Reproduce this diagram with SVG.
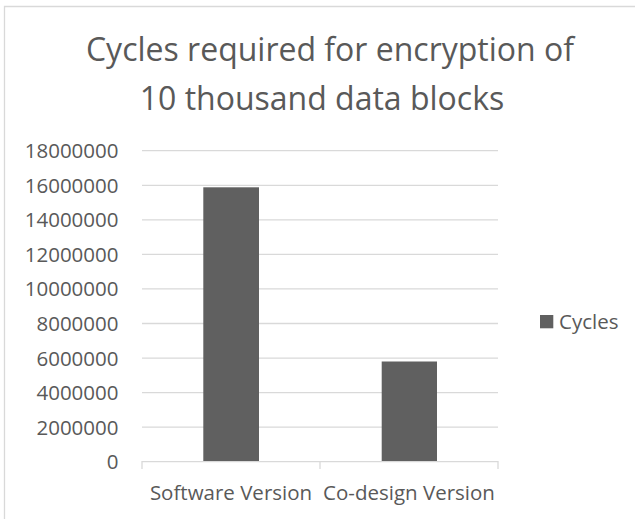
<svg xmlns="http://www.w3.org/2000/svg" width="635" height="519" viewBox="0 0 635 519">
<style>
  text { font-family: "Open Sans", "Liberation Sans", sans-serif; fill: #595959; }
  .title { font-size: 32px; text-anchor: middle; }
  .ylab { font-size: 20.5px; text-anchor: end; }
  .xlab { font-size: 20.5px; text-anchor: middle; }
  .leg { font-size: 20.5px; }
  .grid line { stroke: #d9d9d9; stroke-width: 1.3; }
  .axis { stroke: #d9d9d9; stroke-width: 1.3; fill: none; }
  .bar { fill: #606060; }
</style>
<rect x="0" y="0" width="635" height="519" fill="#ffffff"/>
<path d="M4.5 519 V6.5 H635" fill="none" stroke="#d9d9d9" stroke-width="1.3"/>
<g id="title">
  <text class="title" x="330" y="61">Cycles required for encryption of</text>
  <text class="title" x="322" y="110">10 thousand data blocks</text>
</g>
<g id="gridlines" class="grid">
  <line x1="142" y1="150.7" x2="498" y2="150.7"/>
  <line x1="142" y1="185.3" x2="498" y2="185.3"/>
  <line x1="142" y1="219.8" x2="498" y2="219.8"/>
  <line x1="142" y1="254.4" x2="498" y2="254.4"/>
  <line x1="142" y1="288.9" x2="498" y2="288.9"/>
  <line x1="142" y1="323.5" x2="498" y2="323.5"/>
  <line x1="142" y1="358.1" x2="498" y2="358.1"/>
  <line x1="142" y1="392.6" x2="498" y2="392.6"/>
  <line x1="142" y1="427.2" x2="498" y2="427.2"/>
</g>
<g id="y-axis-labels">
  <text class="ylab" x="118.5" y="158.1">18000000</text>
  <text class="ylab" x="118.5" y="192.7">16000000</text>
  <text class="ylab" x="118.5" y="227.2">14000000</text>
  <text class="ylab" x="118.5" y="261.8">12000000</text>
  <text class="ylab" x="118.5" y="296.3">10000000</text>
  <text class="ylab" x="118.5" y="330.9">8000000</text>
  <text class="ylab" x="118.5" y="365.5">6000000</text>
  <text class="ylab" x="118.5" y="400">4000000</text>
  <text class="ylab" x="118.5" y="434.6">2000000</text>
  <text class="ylab" x="118.5" y="469.1">0</text>
</g>
<g id="bar-software">
  <rect class="bar" x="203.3" y="187.3" width="55.7" height="274.4"/>
</g>
<g id="bar-codesign">
  <rect class="bar" x="381.7" y="361.5" width="55.3" height="100.2"/>
</g>
<g id="x-axis">
  <path class="axis" d="M142 469 V461.7 H498 V469 M320 461.7 V469"/>
  <text class="xlab" x="231" y="500">Software Version</text>
  <text class="xlab" x="409" y="500">Co-design Version</text>
</g>
<g id="legend">
  <rect class="bar" x="540" y="315" width="13.3" height="13.3"/>
  <text class="leg" x="559" y="328.5">Cycles</text>
</g>
</svg>
